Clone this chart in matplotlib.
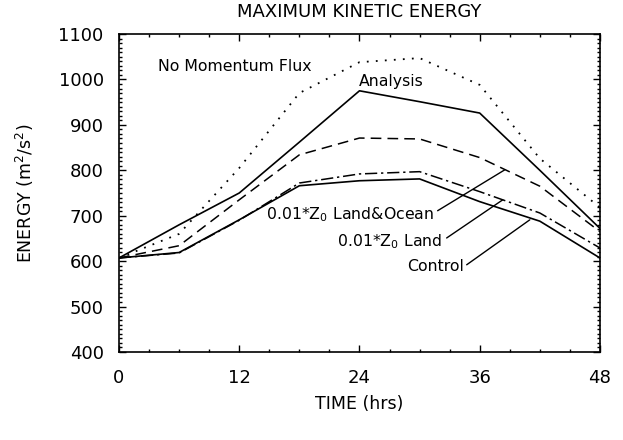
import matplotlib
matplotlib.use('Agg')
import matplotlib.pyplot as plt
from matplotlib.ticker import MultipleLocator

# hours after start, and max kinetic energy for each run (m2/s2)
hours = [0, 6, 12, 18, 24, 30, 36, 42, 48]
analysis = [607, 680, 750, 862, 975, 951, 926, 800, 672]
no_flux = [607, 660, 805, 970, 1038, 1047, 988, 826, 718]
land_ocean = [607, 634, 735, 834, 871, 869, 828, 765, 665]
land_only = [607, 618, 690, 772, 792, 797, 753, 706, 629]
control = [607, 619, 691, 766, 777, 781, 731, 688, 607]

x_ticks = [0, 12, 24, 36, 48]
y_ticks = [400, 500, 600, 700, 800, 900, 1000, 1100]

# label text and where it sits (hours, energy)
labels = ['No Momentum Flux', 'Analysis', r'0.01*Z$_0$ Land&Ocean',
          r'0.01*Z$_0$ Land', 'Control']
label_pos = [(3.9, 1028), (23.9, 995), (14.7, 702), (21.8, 643), (28.8, 588)]

# leader lines: from text end to the curve
leader_from = [(31.8, 711), (32.7, 651), (34.7, 592)]
leader_to = [(38.5, 801), (38.3, 735), (41.0, 691)]

fig = plt.figure(figsize=(6.23, 4.4), dpi=100)
ax = fig.add_axes([0.191, 0.2, 0.772, 0.7227])

ax.plot(hours, no_flux, color='black', lw=1.3, linestyle=(0, (1, 4)))
ax.plot(hours, analysis, color='black', lw=1.2, linestyle='-')
ax.plot(hours, land_ocean, color='black', lw=1.1, linestyle=(0, (7, 4)))
ax.plot(hours, land_only, color='black', lw=1.1, linestyle=(0, (8, 2.5, 1.5, 2.5)))
ax.plot(hours, control, color='black', lw=1.2, linestyle='-')

for txt, (tx, ty) in zip(labels, label_pos):
    ax.text(tx, ty, txt, fontsize=11.3, ha='left', va='center')

for p0, p1 in zip(leader_from, leader_to):
    ax.annotate('', xy=p1, xytext=p0,
                arrowprops=dict(arrowstyle='-', lw=1.0, color='black',
                                shrinkA=0, shrinkB=0))

ax.set_xlim(0, 48)
ax.set_ylim(400, 1100)
ax.set_xticks(x_ticks)
ax.set_yticks(y_ticks)
ax.xaxis.set_minor_locator(MultipleLocator(3))
ax.yaxis.set_minor_locator(MultipleLocator(10))
ax.tick_params(which='both', direction='in', top=True, right=True, width=1)
ax.tick_params(which='major', length=5)
ax.tick_params(which='minor', length=2.5)
ax.tick_params(axis='y', which='major', labelsize=13, pad=11)
ax.tick_params(axis='x', which='major', labelsize=13, pad=12)
for sp in ax.spines.values():
    sp.set_linewidth(1.2)

ax.set_title('MAXIMUM KINETIC ENERGY', fontsize=13, pad=12)
ax.set_xlabel('TIME (hrs)', fontsize=12.5, labelpad=6)
ax.set_ylabel('ENERGY (m$^2$/s$^2$)', fontsize=12.5, labelpad=16)

fig.savefig('out.png', dpi=100)
